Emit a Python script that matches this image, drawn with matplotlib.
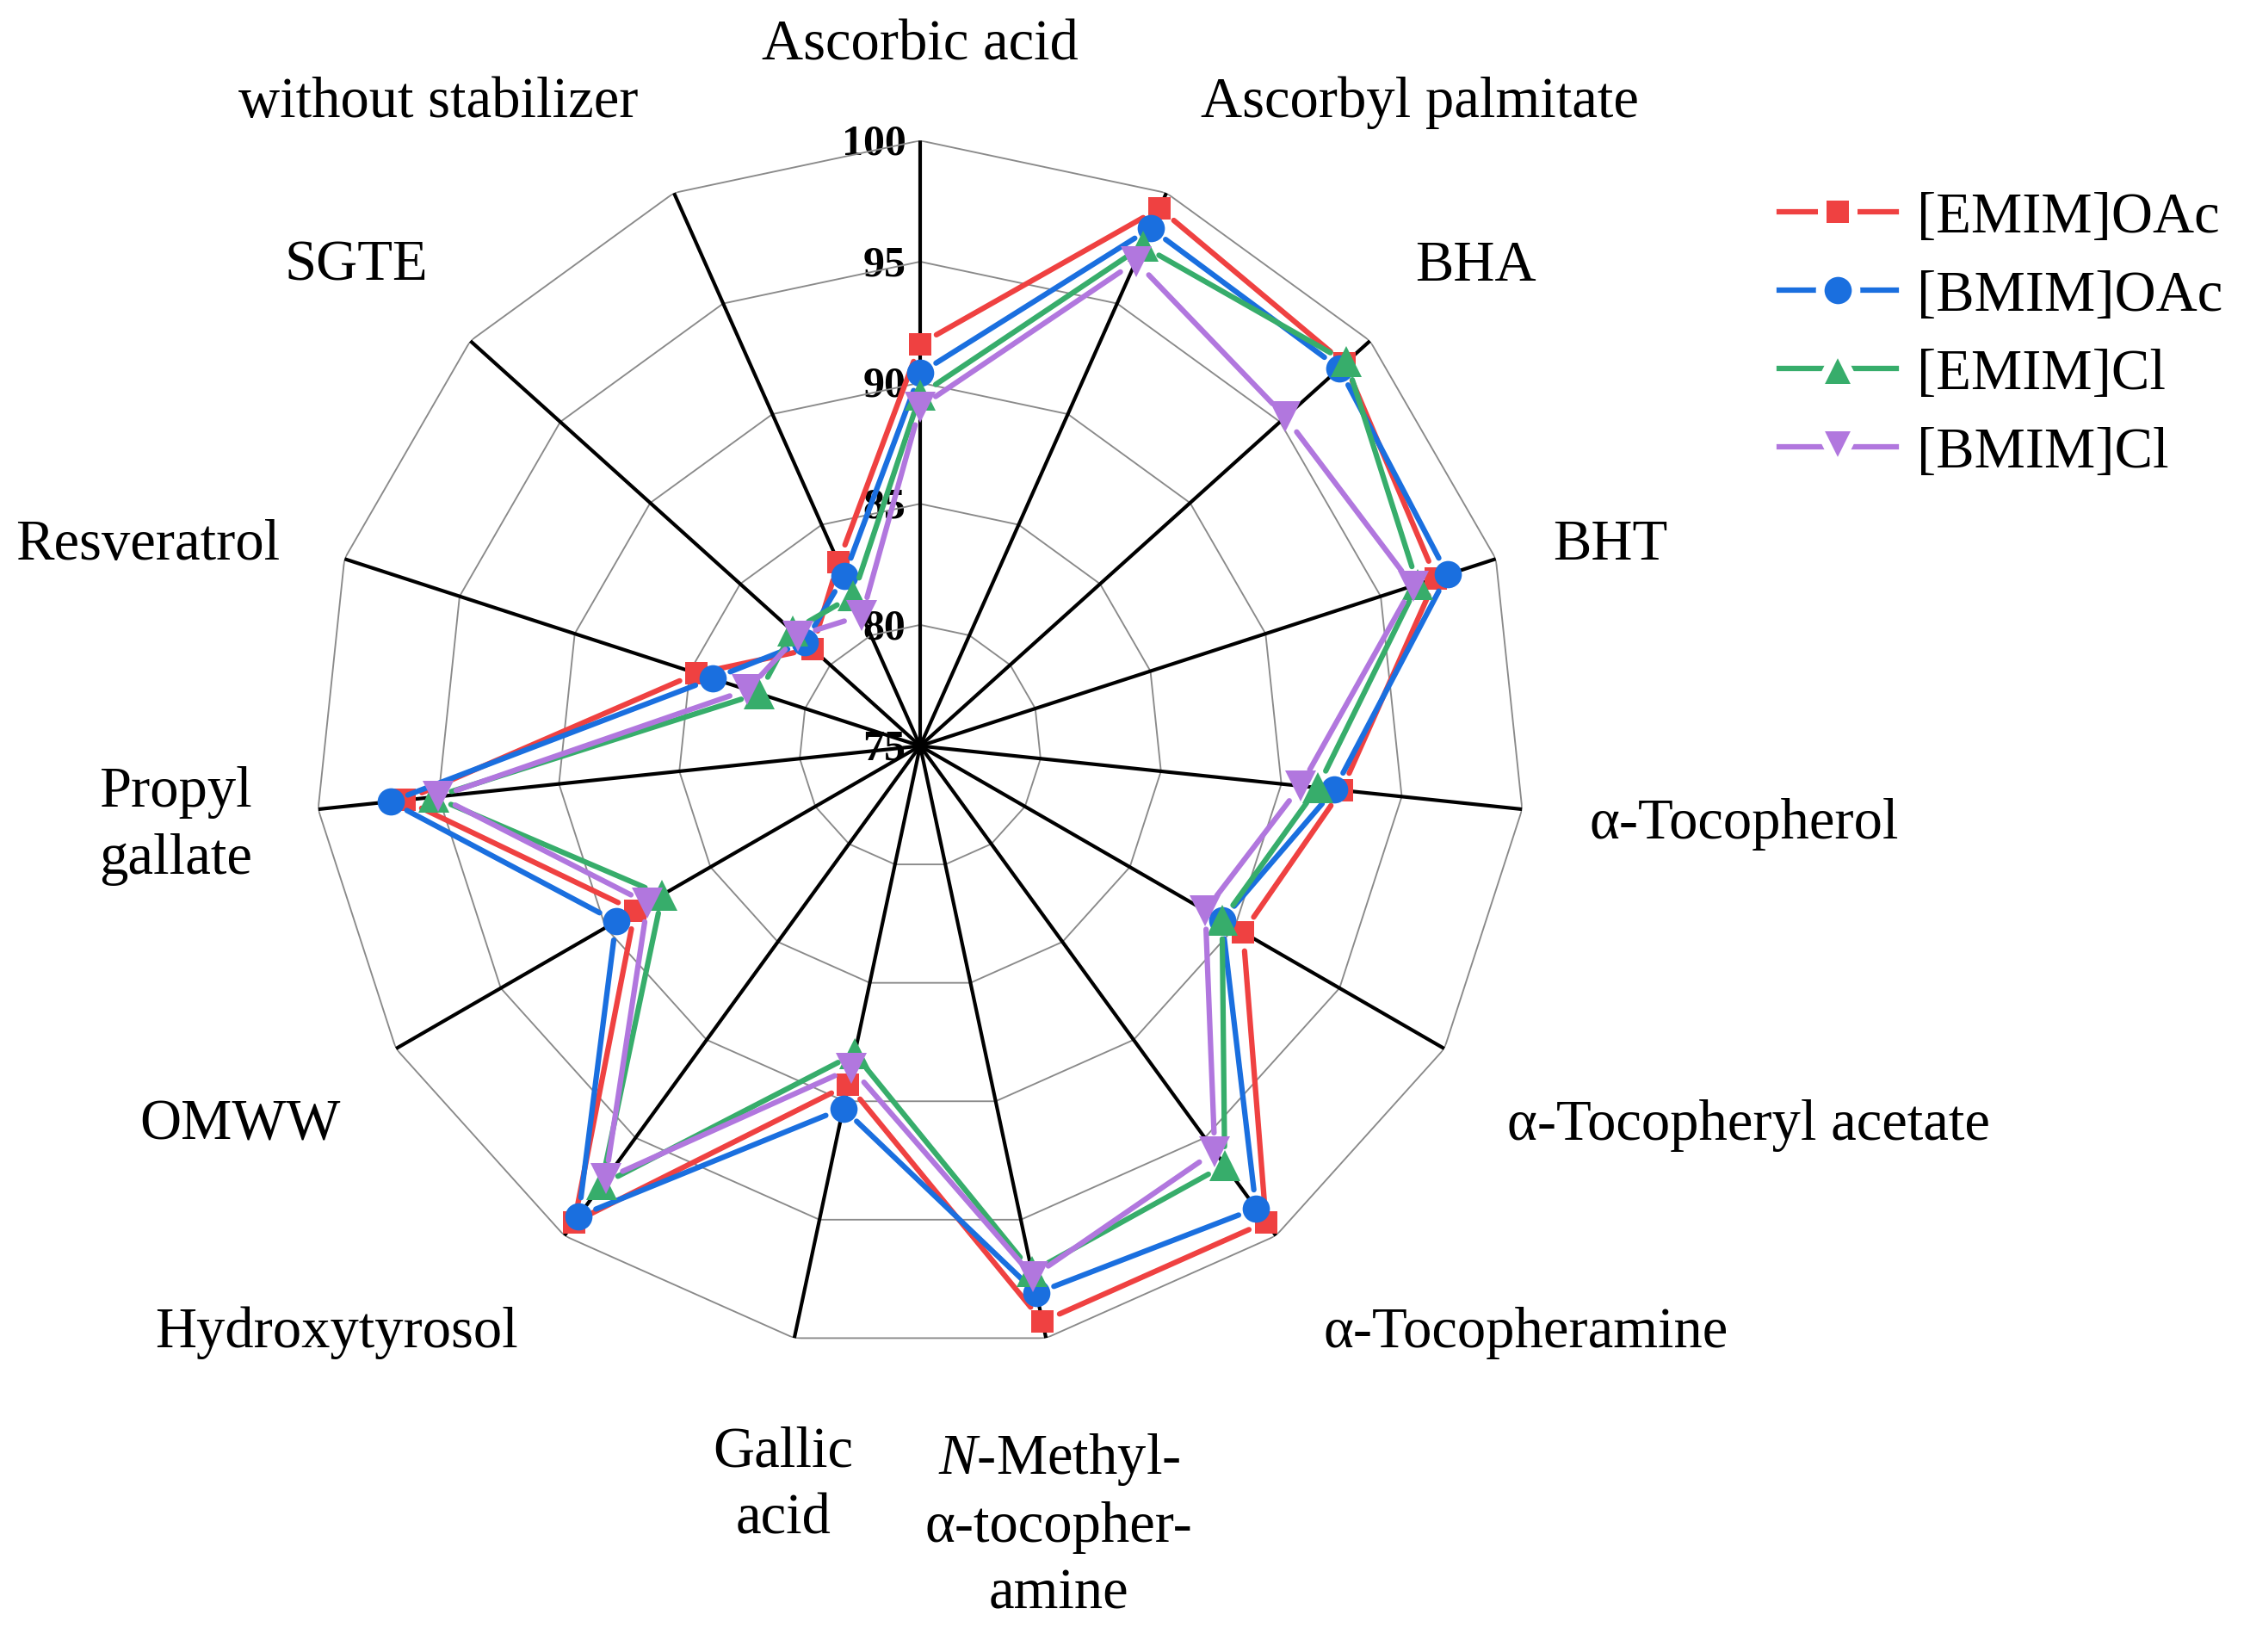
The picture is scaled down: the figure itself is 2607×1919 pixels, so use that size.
import numpy as np
import matplotlib
matplotlib.use("Agg")
import matplotlib.pyplot as plt
from matplotlib.lines import Line2D
from matplotlib.transforms import offset_copy

# =========================
# Data
# =========================

categories = [
    "Ascorbic acid", "Ascorbyl palmitate", "BHA", "BHT", "α-Tocopherol",
    "α-Tocopheryl acetate", "α-Tocopheramine",
    "$\\it{N}$-Methyl-\nα-tocopher-\namine", "Gallic\nacid",
    "Hydroxytyrosol", "OMWW", "Propyl\ngallate", "Resveratrol", "SGTE",
    "without stabilizer",
]

emim_oac = [91.6, 99.3, 98.6, 97.4, 92.5, 90.4, 99.3, 99.3, 89.3, 99.3, 88.6, 96.4, 84.7, 81.0, 83.3]
bmim_oac = [90.4, 98.4, 98.3, 97.9, 92.2, 89.4, 98.6, 98.1, 90.3, 99.0, 89.5, 97.0, 84.0, 81.4, 82.7]
emim_cl = [89.5, 97.6, 98.7, 96.6, 91.5, 89.4, 96.4, 97.2, 88.0, 97.4, 87.3, 95.2, 82.0, 82.1, 81.8]
bmim_cl = [89.0, 96.9, 95.3, 96.4, 90.8, 88.6, 95.7, 97.4, 88.6, 97.1, 88.0, 95.0, 82.5, 81.8, 80.9]

series_names = ["[EMIM]OAc", "[BMIM]OAc", "[EMIM]Cl", "[BMIM]Cl"]
series_values = [emim_oac, bmim_oac, emim_cl, bmim_cl]

r_ticks = [75, 80, 85, 90, 95, 100]

# =========================
# Style
# =========================

colors = ["#EF4141", "#1A6FDF", "#37AD6B", "#B177DE"]
markers = ["s", "o", "^", "v"]
msizes = [6.4, 7.6, 8.8, 8.8]

# label centres in figure fraction (layout only)
label_pos = [
    (0.4101, 0.9723), (0.6327, 0.9376), (0.6575, 0.8388), (0.7175, 0.6698),
    (0.7774, 0.5009), (0.7793, 0.3189), (0.6798, 0.1932), (0.4719, 0.0763),
    (0.3489, 0.1005), (0.1499, 0.1932), (0.1071, 0.3189), (0.0784, 0.5000),
    (0.0657, 0.6698), (0.1588, 0.8388), (0.1952, 0.9376),
]

plt.rcParams['font.family'] = ['Liberation Serif', 'DejaVu Serif']
plt.rcParams['mathtext.fontset'] = 'custom'
plt.rcParams['mathtext.rm'] = 'Liberation Serif'
plt.rcParams['mathtext.it'] = 'Liberation Serif:italic'

# =========================
# Figure
# =========================

fig = plt.figure(figsize=(2607 / 300, 1919 / 300), dpi=300)
ax = fig.add_axes([0.1403, 0.1819, 0.5395, 0.7331], projection='polar')
ax.set_theta_zero_location('N')
ax.set_theta_direction(-1)
ax.set_ylim(75, 100)
ax.set_xticks([])
ax.set_yticks([])
ax.grid(False)
ax.spines['polar'].set_visible(False)
ax.patch.set_visible(False)

n = len(categories)
theta = np.deg2rad(np.arange(n) * 360.0 / n)
theta_closed = np.append(theta, theta[0])

# polygon grid
for lvl in r_ticks[1:]:
    ax.plot(theta_closed, [lvl] * (n + 1), color='#8a8a8a', lw=0.45, zorder=1.2)

# spokes
for t in theta:
    ax.plot([t, t], [r_ticks[0], r_ticks[-1]], color='black', lw=1.0,
            zorder=2, solid_capstyle='butt')

# radial tick labels
tick_tr = offset_copy(ax.transData, fig=fig, x=-4.0, y=-1.0, units='points')
for lvl in r_ticks:
    ax.text(0, lvl, str(lvl), transform=tick_tr, ha='right', va='center',
            fontsize=12, fontweight='bold', zorder=1)

# series: lines with gaps at markers, then markers
for k, vals in enumerate(series_values):
    vals_closed = np.append(vals, vals[0])
    for i in range(n):
        ax.annotate(
            "", xy=(theta_closed[i + 1], vals_closed[i + 1]),
            xytext=(theta_closed[i], vals_closed[i]),
            arrowprops=dict(arrowstyle='-', color=colors[k], lw=1.5,
                            shrinkA=5.2, shrinkB=5.2, capstyle='round'),
            annotation_clip=False, zorder=3 + k,
        )
    ax.plot(theta, vals, ls='none', marker=markers[k], ms=msizes[k],
            color=colors[k], mec=colors[k], mew=0, zorder=3.5 + k,
            clip_on=False)

# category labels
for lab, (x, y) in zip(categories, label_pos):
    fig.text(x, y, lab, ha='center', va='center', fontsize=16,
             linespacing=1.35)

# legend
handles = [
    Line2D([], [], color=colors[k], lw=1.5, marker=markers[k],
           ms=msizes[k] + 2.4, mec='white', mew=2.4)
    for k in range(4)
]
fig.legend(handles, series_names, loc='upper left',
           bbox_to_anchor=(0.7927, 0.884), frameon=False, fontsize=16,
           borderpad=0, borderaxespad=0, handlelength=2.05,
           handletextpad=0.35, labelspacing=0.45)

fig.savefig("out.png", dpi=300)
